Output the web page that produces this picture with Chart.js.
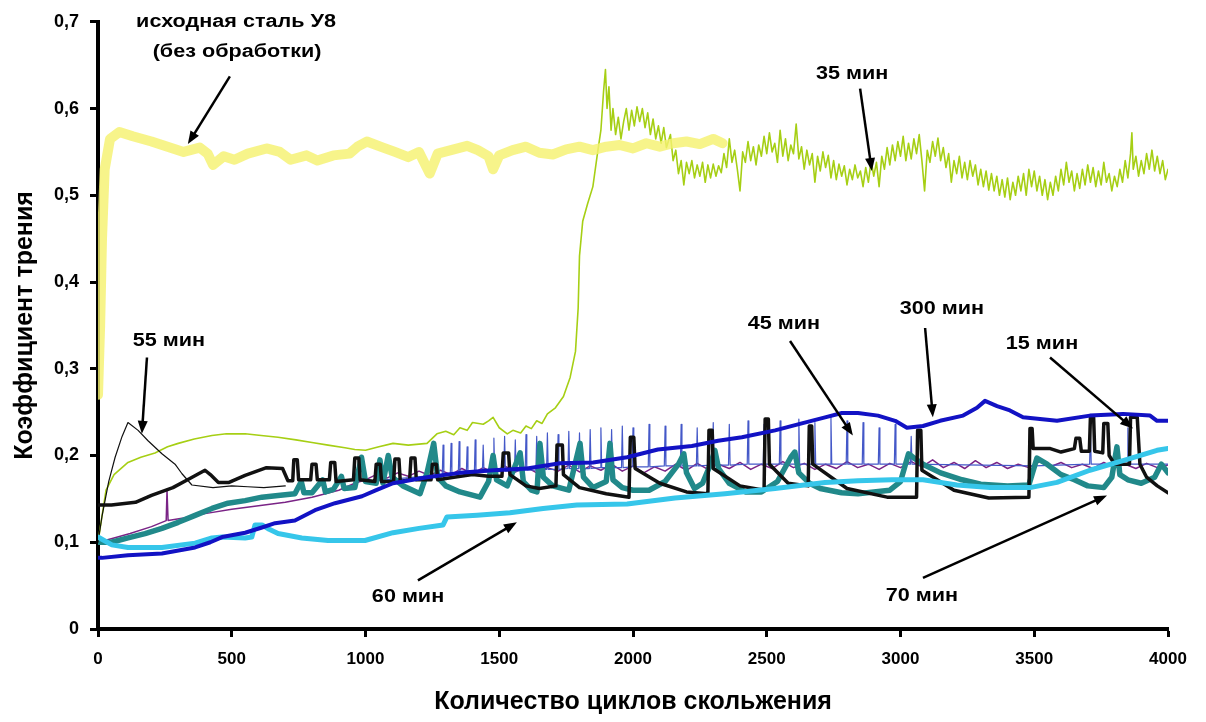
<!DOCTYPE html>
<html>
<head>
<meta charset="utf-8">
<title>Коэффициент трения</title>
<script src="https://cdn.jsdelivr.net/npm/chart.js@4.4.0/dist/chart.umd.min.js"></script>
<style>
  html, body { margin: 0; padding: 0; background: #fff; }
  #wrap { width: 1206px; height: 722px; }
</style>
</head>
<body>
<div id="wrap"><canvas id="friction-chart" width="1206" height="722"></canvas></div>
<script>
// axis ticks
const xTicks = [0, 500, 1000, 1500, 2000, 2500, 3000, 3500, 4000];
const yTicks = [0, 0.1, 0.2, 0.3, 0.4, 0.5, 0.6, 0.7];
const yTickLabels = ['0', '0,1', '0,2', '0,3', '0,4', '0,5', '0,6', '0,7'];

// series: [cycles, friction coefficient]
const steelU8 = [[0,0.27],[8,0.35],[15,0.45],[25,0.53],[45,0.565],[80,0.573],[130,0.568],[200,0.562],[260,0.556],[320,0.55],[380,0.555],[410,0.548],[430,0.535],[470,0.545],[510,0.541],[560,0.548],[630,0.554],[680,0.55],[720,0.541],[780,0.546],[820,0.54],[880,0.546],[940,0.548],[970,0.556],[1005,0.562],[1066,0.555],[1110,0.55],[1160,0.544],[1200,0.55],[1240,0.525],[1270,0.548],[1330,0.553],[1380,0.557],[1420,0.552],[1460,0.545],[1477,0.53],[1500,0.546],[1550,0.552],[1600,0.556],[1650,0.549],[1700,0.547],[1750,0.553],[1800,0.556],[1850,0.552],[1900,0.556],[1950,0.558],[2000,0.554],[2050,0.56],[2100,0.556],[2150,0.56],[2200,0.562],[2250,0.559],[2300,0.565],[2335,0.56]];

const min35 = [[0,0.10],[15,0.13],[30,0.16],[60,0.178],[112,0.192],[160,0.198],[213,0.203],[260,0.21],[300,0.214],[360,0.219],[426,0.223],[480,0.225],[550,0.225],[610,0.223],[673,0.221],[740,0.218],[800,0.215],[860,0.212],[923,0.209],[960,0.207],[1000,0.206],[1050,0.21],[1103,0.214],[1160,0.212],[1230,0.214],[1267,0.225],[1300,0.228],[1330,0.224],[1353,0.232],[1380,0.229],[1400,0.238],[1440,0.236],[1460,0.24],[1477,0.244],[1500,0.232],[1530,0.225],[1551,0.229],[1580,0.226],[1600,0.234],[1620,0.231],[1640,0.24],[1660,0.237],[1680,0.248],[1710,0.255],[1740,0.268],[1765,0.29],[1785,0.32],[1795,0.37],[1800,0.43],[1812,0.47],[1830,0.49],[1850,0.51],[1868,0.55],[1880,0.575],[1890,0.62],[1897,0.645],[1903,0.6],[1910,0.625],[1918,0.575],[1925,0.6],[1935,0.57],[1945,0.59],[1955,0.565],[1965,0.585],[1975,0.6],[1985,0.575],[1995,0.598],[2005,0.58],[2015,0.602],[2025,0.585],[2035,0.6],[2045,0.578],[2055,0.595],[2065,0.57],[2075,0.588],[2085,0.565],[2095,0.58],[2105,0.56],[2115,0.578],[2125,0.555],[2140,0.57],[2150,0.54],[2160,0.552],[2170,0.525],[2180,0.54],[2190,0.512],[2200,0.538],[2210,0.525],[2220,0.54],[2230,0.52],[2240,0.535],[2250,0.522],[2260,0.538],[2270,0.515],[2280,0.535],[2290,0.52],[2300,0.536],[2310,0.522],[2320,0.534],[2330,0.526],[2340,0.548],[2350,0.532],[2360,0.565],[2370,0.538],[2380,0.552],[2390,0.53],[2400,0.505],[2410,0.55],[2420,0.538],[2430,0.562],[2440,0.54],[2450,0.556],[2460,0.535],[2470,0.558],[2480,0.545],[2490,0.568],[2500,0.548],[2510,0.572],[2520,0.55],[2530,0.56],[2540,0.538],[2550,0.575],[2560,0.545],[2570,0.565],[2580,0.54],[2590,0.558],[2600,0.548],[2610,0.582],[2620,0.542],[2630,0.556],[2640,0.53],[2650,0.552],[2660,0.535],[2670,0.548],[2680,0.515],[2690,0.545],[2700,0.528],[2710,0.55],[2720,0.532],[2730,0.546],[2740,0.52],[2750,0.54],[2760,0.518],[2770,0.536],[2780,0.522],[2790,0.534],[2800,0.512],[2810,0.53],[2820,0.518],[2830,0.535],[2840,0.52],[2850,0.528],[2860,0.51],[2870,0.532],[2880,0.515],[2890,0.54],[2900,0.522],[2910,0.538],[2920,0.51],[2930,0.545],[2940,0.53],[2950,0.555],[2960,0.535],[2970,0.558],[2980,0.54],[2990,0.562],[3000,0.545],[3010,0.568],[3020,0.54],[3030,0.56],[3040,0.542],[3050,0.565],[3060,0.548],[3070,0.57],[3080,0.54],[3090,0.505],[3100,0.552],[3110,0.538],[3120,0.562],[3130,0.545],[3140,0.566],[3150,0.54],[3160,0.555],[3170,0.532],[3180,0.548],[3190,0.515],[3200,0.54],[3210,0.525],[3220,0.545],[3230,0.52],[3240,0.538],[3250,0.518],[3260,0.54],[3270,0.522],[3280,0.535],[3290,0.512],[3300,0.53],[3310,0.51],[3320,0.528],[3330,0.506],[3340,0.525],[3350,0.505],[3360,0.522],[3370,0.5],[3380,0.518],[3390,0.498],[3400,0.52],[3410,0.495],[3420,0.515],[3430,0.5],[3440,0.522],[3450,0.505],[3460,0.525],[3470,0.5],[3480,0.53],[3490,0.51],[3500,0.528],[3510,0.505],[3520,0.522],[3530,0.5],[3540,0.518],[3550,0.495],[3560,0.515],[3570,0.5],[3580,0.522],[3590,0.505],[3600,0.53],[3610,0.512],[3620,0.538],[3630,0.515],[3640,0.528],[3650,0.505],[3660,0.525],[3670,0.508],[3680,0.53],[3690,0.512],[3700,0.535],[3710,0.515],[3720,0.532],[3730,0.51],[3740,0.528],[3750,0.512],[3760,0.538],[3770,0.515],[3780,0.525],[3790,0.505],[3800,0.522],[3810,0.51],[3820,0.53],[3830,0.515],[3840,0.54],[3850,0.52],[3860,0.548],[3865,0.572],[3870,0.53],[3880,0.545],[3890,0.522],[3900,0.54],[3910,0.525],[3920,0.548],[3930,0.53],[3940,0.552],[3950,0.528],[3960,0.545],[3970,0.525],[3980,0.54],[3990,0.518],[4000,0.53]];

const min55 = [[0,0.1],[15,0.13],[40,0.17],[64,0.198],[90,0.222],[112,0.238],[150,0.229],[187,0.217],[239,0.202],[288,0.19],[314,0.179],[351,0.166],[430,0.163],[500,0.165],[560,0.164],[620,0.163],[700,0.165]];

const purple = [[0,0.1],[60,0.105],[120,0.11],[200,0.118],[255,0.125],[258,0.16],[262,0.125],[320,0.128],[400,0.133],[500,0.138],[600,0.142],[700,0.146],[800,0.152],[900,0.16],[960,0.168],[1000,0.172],[1040,0.178],[1080,0.174],[1120,0.18],[1160,0.176],[1200,0.182],[1240,0.177],[1280,0.183],[1320,0.178],[1360,0.185],[1400,0.179],[1440,0.186],[1480,0.18],[1520,0.188],[1560,0.181],[1600,0.187],[1640,0.18],[1680,0.186],[1720,0.182],[1760,0.189],[1800,0.181],[1840,0.188],[1880,0.183],[1920,0.19],[1960,0.182],[2000,0.188],[2040,0.18],[2080,0.187],[2120,0.182],[2160,0.19],[2200,0.183],[2240,0.191],[2280,0.184],[2320,0.19],[2360,0.185],[2400,0.192],[2440,0.184],[2480,0.19],[2520,0.185],[2560,0.193],[2600,0.186],[2640,0.191],[2680,0.184],[2720,0.19],[2760,0.185],[2800,0.193],[2840,0.186],[2880,0.19],[2920,0.184],[2960,0.191],[3000,0.186],[3040,0.193],[3080,0.187],[3120,0.195],[3160,0.186],[3200,0.192],[3240,0.185],[3280,0.194],[3320,0.186],[3360,0.192],[3400,0.185],[3440,0.19],[3480,0.186],[3520,0.193],[3560,0.187],[3600,0.192],[3640,0.186],[3680,0.19],[3720,0.185],[3760,0.192],[3800,0.186],[3840,0.19],[3880,0.185],[3920,0.191],[3960,0.186],[4000,0.189]];

const min45 = [[1000,0.17],[1287,0.178],[1290,0.212],[1293,0.178],[1317,0.179],[1320,0.214],[1323,0.179],[1347,0.179],[1350,0.216],[1353,0.179],[1377,0.18],[1380,0.21],[1383,0.18],[1407,0.18],[1410,0.218],[1413,0.18],[1437,0.181],[1440,0.212],[1443,0.181],[1477,0.181],[1480,0.22],[1483,0.181],[1517,0.182],[1520,0.222],[1523,0.182],[1557,0.182],[1560,0.218],[1563,0.182],[1597,0.183],[1600,0.224],[1603,0.183],[1637,0.183],[1640,0.222],[1643,0.183],[1677,0.184],[1680,0.226],[1683,0.184],[1717,0.184],[1720,0.224],[1723,0.184],[1757,0.185],[1760,0.228],[1763,0.185],[1797,0.185],[1800,0.226],[1803,0.185],[1837,0.185],[1840,0.23],[1843,0.185],[1877,0.186],[1880,0.232],[1883,0.186],[1917,0.186],[1920,0.23],[1923,0.186],[1957,0.186],[1960,0.234],[1963,0.186],[1997,0.187],[2000,0.232],[2003,0.187],[2057,0.187],[2060,0.236],[2063,0.187],[2117,0.188],[2120,0.234],[2123,0.188],[2177,0.188],[2180,0.236],[2183,0.188],[2237,0.188],[2240,0.232],[2243,0.188],[2297,0.189],[2300,0.238],[2303,0.189],[2357,0.189],[2360,0.236],[2363,0.189],[2427,0.19],[2430,0.24],[2433,0.19],[2487,0.19],[2490,0.236],[2493,0.19],[2547,0.19],[2550,0.24],[2553,0.19],[2617,0.19],[2620,0.242],[2623,0.19],[2677,0.19],[2680,0.238],[2683,0.19],[2737,0.19],[2740,0.244],[2743,0.19],[2797,0.19],[2800,0.24],[2803,0.19],[2857,0.19],[2860,0.238],[2863,0.19],[2917,0.19],[2920,0.232],[2923,0.19],[2977,0.19],[2980,0.236],[2983,0.19],[3037,0.19],[3040,0.222],[3043,0.19],[3500,0.188],[3707,0.19],[3710,0.23],[3713,0.19],[3847,0.19],[3850,0.232],[3853,0.19],[4000,0.19]];

const min15 = [[0,0.143],[50,0.143],[140,0.146],[200,0.154],[280,0.163],[340,0.173],[400,0.183],[420,0.178],[450,0.169],[490,0.169],[550,0.177],[630,0.186],[690,0.185],[710,0.171],[728,0.171],[732,0.195],[745,0.195],[750,0.172],[795,0.172],[800,0.19],[815,0.19],[820,0.172],[865,0.172],[870,0.192],[885,0.192],[890,0.17],[955,0.172],[960,0.197],[975,0.197],[980,0.172],[1035,0.17],[1040,0.19],[1055,0.19],[1060,0.17],[1105,0.17],[1110,0.196],[1125,0.196],[1130,0.17],[1165,0.172],[1170,0.197],[1185,0.197],[1190,0.172],[1245,0.172],[1250,0.19],[1265,0.19],[1270,0.172],[1330,0.175],[1400,0.178],[1460,0.176],[1510,0.176],[1515,0.203],[1535,0.203],[1540,0.178],[1600,0.165],[1650,0.162],[1712,0.165],[1716,0.212],[1736,0.212],[1740,0.178],[1800,0.163],[1900,0.156],[1985,0.152],[1990,0.221],[2003,0.221],[2008,0.185],[2100,0.168],[2200,0.158],[2280,0.156],[2284,0.229],[2296,0.229],[2300,0.185],[2400,0.165],[2490,0.16],[2494,0.242],[2506,0.242],[2510,0.19],[2580,0.168],[2655,0.165],[2659,0.234],[2668,0.234],[2672,0.19],[2800,0.162],[2950,0.152],[3060,0.152],[3064,0.229],[3076,0.229],[3080,0.183],[3200,0.16],[3330,0.151],[3480,0.152],[3484,0.231],[3492,0.231],[3496,0.208],[3560,0.208],[3600,0.204],[3650,0.208],[3656,0.22],[3670,0.22],[3676,0.205],[3706,0.205],[3710,0.244],[3722,0.244],[3726,0.205],[3756,0.203],[3760,0.237],[3775,0.237],[3780,0.2],[3800,0.19],[3856,0.19],[3860,0.244],[3885,0.244],[3895,0.19],[3920,0.175],[3960,0.165],[4000,0.157]];

const min70 = [[0,0.1],[50,0.1],[112,0.105],[176,0.11],[239,0.116],[300,0.123],[363,0.131],[426,0.139],[486,0.145],[550,0.148],[613,0.152],[673,0.154],[736,0.156],[760,0.17],[770,0.157],[800,0.157],[840,0.172],[850,0.158],[880,0.161],[910,0.176],[920,0.162],[960,0.163],[985,0.198],[1000,0.17],[1040,0.168],[1054,0.195],[1065,0.168],[1085,0.2],[1100,0.175],[1140,0.165],[1204,0.156],[1230,0.18],[1255,0.214],[1270,0.175],[1300,0.165],[1353,0.158],[1428,0.152],[1460,0.17],[1477,0.2],[1490,0.172],[1530,0.165],[1578,0.203],[1590,0.17],[1620,0.16],[1641,0.158],[1652,0.214],[1665,0.175],[1700,0.165],[1760,0.16],[1802,0.214],[1815,0.175],[1851,0.163],[1900,0.17],[1914,0.214],[1925,0.172],[1960,0.163],[2000,0.16],[2060,0.16],[2120,0.17],[2170,0.19],[2190,0.202],[2200,0.18],[2230,0.162],[2260,0.168],[2290,0.19],[2306,0.206],[2320,0.185],[2360,0.168],[2420,0.158],[2480,0.158],[2540,0.17],[2590,0.198],[2605,0.204],[2620,0.18],[2660,0.168],[2700,0.162],[2780,0.157],[2841,0.156],[2900,0.158],[2960,0.16],[3000,0.17],[3030,0.202],[3060,0.195],[3084,0.19],[3150,0.18],[3230,0.172],[3300,0.167],[3400,0.165],[3480,0.166],[3510,0.197],[3548,0.19],[3600,0.178],[3650,0.172],[3700,0.165],[3760,0.163],[3790,0.175],[3809,0.21],[3820,0.178],[3850,0.172],[3900,0.168],[3950,0.175],[3975,0.19],[4000,0.18]];

const min60 = [[0,0.106],[52,0.097],[112,0.094],[239,0.094],[363,0.099],[426,0.105],[464,0.106],[550,0.105],[575,0.106],[587,0.12],[613,0.12],[640,0.115],[673,0.11],[762,0.105],[860,0.102],[998,0.102],[1103,0.111],[1200,0.116],[1290,0.12],[1304,0.129],[1417,0.131],[1540,0.134],[1664,0.139],[1790,0.143],[1978,0.144],[2157,0.151],[2344,0.156],[2531,0.162],[2718,0.169],[2841,0.171],[2968,0.172],[3084,0.172],[3211,0.166],[3335,0.163],[3484,0.163],[3585,0.169],[3708,0.183],[3832,0.194],[3959,0.206],[4000,0.208]];

const min300 = [[0,0.082],[15,0.082],[112,0.085],[239,0.087],[363,0.094],[420,0.1],[464,0.106],[550,0.111],[613,0.117],[662,0.122],[736,0.125],[811,0.137],[886,0.145],[987,0.153],[1040,0.16],[1103,0.168],[1230,0.175],[1353,0.18],[1477,0.183],[1604,0.185],[1727,0.191],[1851,0.192],[1978,0.198],[2093,0.207],[2220,0.211],[2318,0.217],[2407,0.221],[2531,0.229],[2631,0.237],[2718,0.244],[2781,0.249],[2841,0.249],[2916,0.246],[2980,0.24],[3024,0.232],[3084,0.234],[3148,0.24],[3234,0.246],[3286,0.255],[3316,0.263],[3361,0.257],[3409,0.252],[3458,0.244],[3585,0.24],[3708,0.246],[3832,0.248],[3933,0.246],[3959,0.24],[4000,0.24]];

// labels and arrows on the plot, in data units
const notes = [
  { text: 'исходная сталь У8', x: 516, y: 0.700 },
  { text: '(без обработки)', x: 520, y: 0.665 },
  { text: '35 мин', x: 2819, y: 0.640 },
  { text: '55 мин', x: 265, y: 0.332 },
  { text: '45 мин', x: 2564, y: 0.352 },
  { text: '300 мин', x: 3155, y: 0.369 },
  { text: '15 мин', x: 3529, y: 0.328 },
  { text: '60 мин', x: 1159, y: 0.037 },
  { text: '70 мин', x: 3080, y: 0.038 },
];
const arrows = [
  [493, 0.637, 336, 0.559],
  [2849, 0.623, 2893, 0.528],
  [183, 0.313, 164, 0.225],
  [2587, 0.332, 2822, 0.223],
  [3092, 0.347, 3121, 0.244],
  [3559, 0.313, 3869, 0.231],
  [1196, 0.056, 1566, 0.123],
  [3084, 0.059, 3772, 0.154],
];

const notesPlugin = {
  id: 'notes',
  afterDatasetsDraw(chart) {
    const { ctx, scales: { x, y } } = chart;
    ctx.save();
    ctx.strokeStyle = '#000';
    ctx.fillStyle = '#000';
    ctx.lineWidth = 2.5;
    arrows.forEach(([x1, y1, x2, y2]) => {
      const ax = x.getPixelForValue(x1), ay = y.getPixelForValue(y1);
      const bx = x.getPixelForValue(x2), by = y.getPixelForValue(y2);
      const a = Math.atan2(by - ay, bx - ax);
      const c = Math.cos(a), s = Math.sin(a);
      ctx.beginPath();
      ctx.moveTo(ax, ay);
      ctx.lineTo(bx - 8 * c, by - 8 * s);
      ctx.stroke();
      ctx.beginPath();
      ctx.moveTo(bx, by);
      ctx.lineTo(bx - 13 * c + 5 * s, by - 13 * s - 5 * c);
      ctx.lineTo(bx - 13 * c - 5 * s, by - 13 * s + 5 * c);
      ctx.closePath();
      ctx.fill();
    });
    ctx.font = 'bold 18px "Liberation Sans", Arial, sans-serif';
    ctx.textAlign = 'center';
    ctx.textBaseline = 'middle';
    notes.forEach(n => {
      ctx.save();
      ctx.translate(x.getPixelForValue(n.x), y.getPixelForValue(n.y));
      ctx.scale(1.2, 1);
      ctx.fillText(n.text, 0, 0);
      ctx.restore();
    });
    ctx.restore();
  }
};

function line(label, data, color, width) {
  return {
    label: label,
    data: data.map(p => ({ x: p[0], y: p[1] })),
    borderColor: color,
    backgroundColor: color,
    borderWidth: width,
    pointRadius: 0,
    tension: 0,
    fill: false,
    borderJoinStyle: 'round',
    borderCapStyle: 'round',
  };
}

Chart.defaults.font.family = '"Liberation Sans", Arial, sans-serif';
Chart.defaults.color = '#000';

// first dataset is drawn on top
const datasets = [
  line('300 мин', min300, '#1212c4', 4),
  line('60 мин', min60, '#36c6ea', 5),
  line('55 мин', min55, '#111111', 1.2),
  line('15 мин', min15, '#111111', 3.5),
  line('70 мин', min70, '#21898a', 5.5),
  line('45 мин', min45, '#4458c8', 1.2),
  line('purple', purple, '#7a2486', 1.5),
  line('исходная сталь У8', steelU8, 'rgba(245, 242, 112, 0.82)', 10),
  line('35 мин', min35, '#a6cf14', 1.6),
];

const chart = new Chart(document.getElementById('friction-chart'), {
  type: 'line',
  data: { datasets: datasets },
  options: {
    responsive: false,
    animation: false,
    devicePixelRatio: 1,
    layout: { padding: { top: 19, right: 38, left: 0, bottom: 0 } },
    scales: {
      x: {
        type: 'linear',
        min: 0,
        max: 4000,
        afterBuildTicks: s => { s.ticks = xTicks.map(v => ({ value: v })); },
        afterFit: s => { s.height = 93; },
        grid: { drawOnChartArea: false, drawTicks: true, tickLength: 8, tickColor: '#000', tickWidth: 3 },
        border: { color: '#000', width: 4 },
        ticks: {
          color: '#000',
          padding: 12,
          maxRotation: 0,
          font: { size: 17, weight: 'bold' },
          callback: v => String(v),
        },
        title: {
          display: true,
          text: 'Количество циклов скольжения',
          color: '#000',
          font: { size: 25, weight: 'bold' },
          padding: { top: 0, bottom: 5 },
        },
      },
      y: {
        min: 0,
        max: 0.7,
        afterBuildTicks: s => { s.ticks = yTicks.map(v => ({ value: v })); },
        afterFit: s => { s.width = 98; },
        grid: { drawOnChartArea: false, drawTicks: true, tickLength: 8, tickColor: '#000', tickWidth: 3 },
        border: { color: '#000', width: 4 },
        ticks: {
          color: '#000',
          padding: 11,
          font: { size: 18, weight: 'bold' },
          callback: (v, i) => yTickLabels[i],
        },
        title: {
          display: true,
          text: 'Коэффициент трения',
          color: '#000',
          font: { size: 25, weight: 'bold' },
          padding: { top: 10, bottom: 0 },
        },
      },
    },
    plugins: {
      legend: { display: false },
      tooltip: { enabled: false },
    },
  },
  plugins: [notesPlugin],
});
</script>
</body>
</html>
